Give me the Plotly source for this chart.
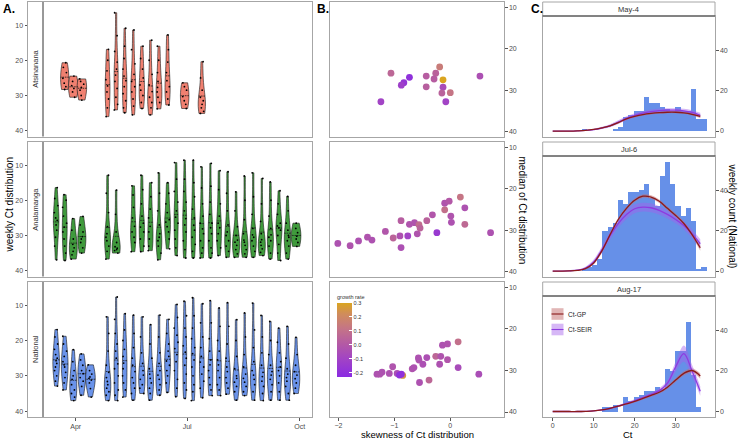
import plotly.graph_objects as go

W, H = 739, 441
def fx(p): return p / W
def fy(p): return 1 - p / H

# ---------------- Panel A data: weekly Ct values ----------------
ATS_WEEKS = ["2020-03-23","2020-03-30","2020-04-06","2020-04-27","2020-05-04","2020-05-11",
             "2020-05-18","2020-05-25","2020-06-01","2020-06-08","2020-06-15","2020-06-29","2020-07-13"]
ATS_CT = [
    [20.7, 22, 23.5, 25.1, 26.5, 27.5, 28.3],
    [24.5, 26, 27.2, 28, 29, 30.5],
    [25.3, 26, 26.8, 27.7, 28.5, 30, 31.3],
    [16.9, 20, 23, 25.5, 27.3, 29, 31, 33.5, 36],
    [6.5, 13, 17.5, 20.5, 22.5, 24.2, 26, 28, 30.5, 32.5, 34.1],
    [10.9, 16, 19.5, 22.5, 24.5, 25.8, 27.5, 29.5, 31.5, 33.5, 34.9],
    [11.4, 17, 21, 24, 26, 27.5, 29, 31, 33, 35.5],
    [16, 19.5, 22.5, 25, 27, 28.5, 30, 32, 33.7],
    [14.3, 20, 24, 27, 28.9, 30.5, 32, 33.5, 35.5],
    [16, 20, 23.5, 26, 27.7, 29, 30.5, 32, 33.8],
    [12.8, 17, 20.5, 23.5, 25.8, 27.5, 29, 31, 32.7],
    [26.4, 27.5, 28.5, 30.3, 31.5, 32.5, 33.7],
    [20.4, 25, 28.5, 30.5, 31.5, 32.5, 33.5, 34.5, 35.1],
]

ANA_WEEKS = ["2020-03-16","2020-03-23","2020-03-30","2020-04-06","2020-04-27","2020-05-04",
             "2020-05-18","2020-05-25","2020-06-01","2020-06-08","2020-06-15","2020-06-22",
             "2020-06-29","2020-07-06","2020-07-13","2020-07-20","2020-07-27","2020-08-03",
             "2020-08-10","2020-08-17","2020-08-24","2020-08-31","2020-09-07","2020-09-14",
             "2020-09-21","2020-09-28"]
ANA_CT = [
    [16.4, 19.5, 21.5, 23.5, 25, 25.7, 27, 28.5, 30.5, 33, 36.9],
    [18.4, 20, 22, 24.5, 26.5, 27.6, 29, 31, 33, 35, 37.1],
    [25.2, 28.5, 31, 32.5, 33.5, 34.5, 35.5, 36.7],
    [24.6, 27, 29, 30.3, 31, 32, 33.5, 35],
    [12.9, 18, 23.5, 27.5, 29.5, 30.5, 31.5, 33, 34.5, 36.7],
    [17.1, 24, 29, 32, 33.2, 33.6, 34, 34.3, 35],
    [15.9, 18.5, 22, 25, 27.4, 29, 30.5, 32, 34.6],
    [12.9, 17, 21, 24.5, 26.5, 27.6, 29, 31, 33, 34.6],
    [15, 19, 22.5, 25, 27.4, 29, 31, 33, 34.3],
    [12.2, 18, 23, 27, 29.5, 30.5, 31.5, 33, 35, 36.9],
    [15, 18, 21, 23.5, 25.5, 26.2, 27.5, 29, 31, 33.8],
    [9.3, 14, 17.5, 20.5, 23, 24.8, 26.5, 28.5, 31, 33.5, 35.7],
    [8.6, 14, 17.5, 20.5, 23, 25.2, 27, 29, 31.5, 34, 36.4],
    [8.6, 15, 19, 22.5, 25, 27.1, 28.5, 30.5, 32.5, 34.5, 36.4],
    [10.5, 16.5, 21, 24.5, 26.5, 28.1, 29.5, 31.5, 33.5, 35, 36.4],
    [9.5, 16, 20.5, 24, 26.5, 27.8, 29.5, 31.5, 33.5, 35, 36.4],
    [11.6, 17, 21, 24.5, 26.5, 27.8, 29.5, 31.5, 33.5, 35.7],
    [11.9, 18, 23, 27, 29, 30, 31.5, 33, 34.5, 36.2],
    [17.6, 23, 27.5, 30, 31.3, 31.9, 32.8, 34, 35.2, 36.2],
    [13.1, 20, 25.5, 29.5, 31.3, 31.9, 32.8, 34, 35.2, 36.2],
    [12.2, 19, 24, 28, 29.8, 30.5, 31.5, 33, 34.5, 36.2],
    [13.8, 21, 26, 29.5, 31.2, 31.9, 32.8, 33.8, 34.8, 35.7],
    [14.8, 20, 24.5, 28, 29.8, 30.5, 31.5, 33, 35, 36.7],
    [17.3, 21, 24, 26.5, 27.3, 27.8, 28.5, 30, 32.5, 35, 37.1],
    [18.9, 23, 26.5, 28.5, 30, 30.5, 31.5, 33, 35, 36.7],
    [26.5, 28, 29.2, 30.2, 31, 32, 33.1],
]

NAT_WEEKS = ["2020-03-16","2020-03-23","2020-03-30","2020-04-06","2020-04-13","2020-04-27",
             "2020-05-04","2020-05-11","2020-05-18","2020-05-25","2020-06-01","2020-06-08",
             "2020-06-15","2020-06-22","2020-06-29","2020-07-06","2020-07-13","2020-07-20",
             "2020-07-27","2020-08-03","2020-08-10","2020-08-17","2020-08-24","2020-08-31",
             "2020-09-07","2020-09-14","2020-09-21","2020-09-28"]
NAT_CT = [
    [16.9, 19, 21, 22.5, 24, 25, 25.7, 26.5, 27.5, 28.5, 30, 31.5, 32.9],
    [18.8, 21, 23, 24.5, 26, 26.9, 27.5, 29, 30.5, 32, 34],
    [22.6, 26, 28.5, 30, 31, 32.5, 34, 35, 36, 37],
    [23.8, 25.5, 27, 28.5, 29.4, 30.5, 31.5, 33, 35.5],
    [26.9, 28.5, 29.5, 30.3, 30.7, 31.2, 32, 33.6, 36],
    [13.3, 18, 23, 27, 29, 30.5, 31.6, 32.5, 33.5, 34.5, 35.5, 37],
    [7.7, 14, 18, 21, 23, 25, 26.6, 28, 30, 32, 34, 35.5, 37],
    [12.4, 17, 20, 22.5, 24.5, 26.4, 28, 30, 32, 34, 36],
    [12.8, 18, 22, 25, 27, 28.8, 30.5, 32, 33.5, 35, 36.9],
    [13.3, 19, 23.5, 26.5, 28.5, 29.8, 31, 32.5, 33.5, 35],
    [15.5, 21, 25, 28, 29.5, 30.7, 32, 33.5, 35, 36.9],
    [12.8, 19, 23.5, 26.5, 28.5, 29.8, 31, 32.5, 34, 35.5],
    [14, 18, 21, 23, 24.5, 25.8, 27, 28.5, 30, 32, 34.7],
    [9.8, 13.5, 16.5, 18.5, 20.5, 22.3, 24, 26, 28.5, 31, 33.5, 35.9],
    [8.9, 13, 16.5, 19, 21.5, 23.3, 25, 27, 29.5, 32, 34, 36.4],
    [7.9, 13, 16.5, 19.5, 22, 23.7, 25.5, 27.5, 30, 32.5, 34.5, 37],
    [9.6, 15, 19, 22, 24.5, 26.1, 27.5, 29.5, 31.5, 33.5, 36.2],
    [8.7, 15, 19.5, 23, 25.5, 26.9, 28.5, 30.5, 32.5, 34, 35.6],
    [10.8, 16, 20, 23, 25.5, 26.9, 28.5, 30.5, 32.5, 34, 35.6],
    [9.3, 16, 21, 25, 27.5, 28.8, 30.5, 32, 33.5, 35.2],
    [14.1, 20, 24.5, 28, 30, 30.7, 31.8, 33, 34.5, 36.9],
    [12.2, 19, 24, 27.5, 29.5, 30.7, 31.8, 33, 34.5, 35.6],
    [9.4, 17, 22, 26, 28.5, 29.8, 31, 32.5, 34.5, 36.9],
    [12.9, 19, 23.5, 27, 29, 30.2, 31.5, 33, 35, 37],
    [14.6, 20, 24, 27, 28.8, 29.8, 31, 32.5, 34.5, 36.9],
    [16.5, 20.5, 23.5, 26, 27.5, 28.5, 30, 32, 34.5, 36.9],
    [16, 21, 25, 28, 29.5, 30.5, 31.5, 33, 35, 36.9],
    [19.1, 24, 27, 28.8, 29.8, 30.8, 32, 33.5, 35],
]

REGIONS = ["Atsinanana", "Analamanga", "National"]
A_TICKS = ["2020-04-01", "2020-07-01", "2020-10-01"]
A_TICKTEXT = ["Apr", "Jul", "Oct"]

# ---------------- Panel B data: skewness, median, growth rate ----------------
ATS_SKEW = [-1.06, -0.73, -0.83, -0.875, -1.24, -0.43, -0.43, -0.26, -0.29, -0.19, -0.13, -0.13, -0.15, 0.0, -0.08, 0.53]
ATS_MED = [25.9, 26.9, 28.2, 28.8, 32.8, 26.6, 29.2, 25.9, 27.3, 24.4, 27.5, 29.3, 30.7, 30.6, 32.8, 26.6]
ATS_GR = [0.06, -0.2, -0.17, -0.12, -0.1, 0.02, 0.03, 0.04, 0.02, 0.15, 0.3, -0.06, 0.04, 0.12, -0.1, -0.04]

ANA_SKEW = [-2.01, -1.79, -1.64, -1.48, -1.40, -1.16, -1.02, -0.90, -0.88, -0.88, -0.76, -0.73, -0.64, -0.59,
            -0.56, -0.54, -0.42, -0.32, -0.24, -0.10, -0.10, -0.02, 0.01, 0.02, 0.18, 0.26, 0.26, 0.72]
ANA_MED = [33.2, 33.75, 32.6, 31.7, 32.4, 30.3, 31.9, 31.4, 27.7, 34.2, 31.4, 28.6, 28.2, 30.9,
           28.7, 29.5, 27.7, 26.3, 30.6, 23.5, 25.1, 23.0, 26.6, 28.1, 22.0, 24.6, 28.6, 30.6]
ANA_GR = [-0.03, -0.02, -0.03, -0.02, -0.03, -0.01, 0.05, -0.03, 0.02, -0.04, -0.1, -0.02, -0.02, -0.02,
          0.09, 0.05, 0.04, -0.01, -0.15, -0.02, 0.1, 0.0, -0.02, -0.03, 0.12, -0.03, 0.07, -0.03]

NAT_SKEW = [-0.85, -1.31, -1.26, -1.22, -1.09, -1.03, -0.95, -0.91, -0.875, -0.68, -0.65, -0.56, -0.57,
            -0.55, -0.49, -0.42, -0.38, -0.26, -0.17, -0.19, -0.14, -0.05, -0.05, 0.14, 0.14, 0.51]
NAT_MED = [31.2, 30.9, 30.9, 30.4, 30.7, 29.1, 30.7, 31.1, 30.9, 29.6, 29.3, 27.5, 27.0,
           32.9, 28.5, 26.9, 32.3, 26.6, 26.6, 28.5, 23.9, 23.6, 27.4, 23.1, 29.3, 30.9]
NAT_GR = [0.25, -0.03, -0.02, -0.03, -0.03, -0.02, -0.05, -0.2, -0.2, -0.02, -0.03, -0.02, -0.03,
          -0.03, -0.04, -0.04, 0.06, 0.06, -0.02, -0.03, -0.03, -0.02, -0.01, 0.1, -0.06, -0.05]

# ---------------- Panel C data: histograms and model fits ----------------
C_TITLES = ["May-4", "Jul-6", "Aug-17"]
BIN_MID = [0.0, 1.27, 2.54, 3.81, 5.08, 6.35, 7.62, 8.89, 10.16, 11.43, 12.7, 13.97, 15.24, 16.51, 17.78,
           19.05, 20.32, 21.59, 22.86, 24.13, 25.4, 26.67, 27.94, 29.21, 30.48, 31.75, 33.02, 34.29, 35.56, 36.83]
MAY4_COUNT = [0, 0, 0, 0, 0, 0, 1, 0, 0, 0, 0, 0, 1, 2, 7, 8, 10, 10, 17, 14, 14, 12, 11, 10, 12, 10, 10, 21, 6, 6]
JUL6_COUNT = [0, 0, 0, 0, 0, 0, 1, 2, 3, 6, 20, 22, 24, 35, 33, 39, 39, 40, 43, 36, 32, 47, 54, 43, 32, 27, 31, 25, 1, 2]
AUG17_COUNT = [0, 0, 0, 0, 0, 0, 0, 0, 0, 0, 2, 2, 3, 0, 7, 5, 7, 8, 10, 10, 12, 11, 21, 20, 30, 30, 44, 18, 2, 0]

CT_GRID = [0, 2, 4, 6, 8, 10, 12, 14, 16, 18, 20, 22, 24, 26, 28, 30, 32, 34, 36]
MAY4_GP = [0, 0, 0, 0.1, 0.3, 0.8, 1.6, 2.6, 4.2, 6.0, 7.2, 8.1, 8.7, 9.1, 9.3, 9.3, 9.0, 8.3, 7.2]
MAY4_GP_LO = [0, 0, 0, 0.05, 0.2, 0.6, 1.3, 2.2, 3.7, 5.5, 6.7, 7.6, 8.2, 8.6, 8.8, 8.8, 8.5, 7.7, 6.5]
MAY4_GP_HI = [0, 0, 0.05, 0.15, 0.4, 1.0, 1.9, 3.0, 4.7, 6.5, 7.7, 8.6, 9.2, 9.6, 9.8, 9.8, 9.5, 8.9, 7.9]
MAY4_SE = [0, 0, 0, 0.1, 0.3, 0.7, 1.5, 2.6, 4.4, 6.3, 7.8, 8.9, 9.6, 10.1, 10.3, 10.3, 10.0, 9.2, 7.8]
MAY4_SE_LO = [0, 0, 0, 0.05, 0.15, 0.4, 1.0, 1.9, 3.5, 5.3, 6.8, 7.9, 8.6, 9.1, 9.3, 9.3, 9.0, 8.1, 6.6]
MAY4_SE_HI = [0, 0, 0.05, 0.2, 0.5, 1.1, 2.1, 3.4, 5.3, 7.3, 8.8, 9.9, 10.6, 11.1, 11.3, 11.3, 11.0, 10.3, 9.0]

JUL6_GP = [0, 0, 0.05, 0.3, 1.2, 4.0, 10.0, 18.0, 25.5, 31.0, 35.0, 37.0, 36.6, 34.5, 31.0, 27.5, 23.5, 18.0, 11.5]
JUL6_GP_LO = [0, 0, 0, 0.2, 0.9, 3.4, 9.2, 17.1, 24.6, 30.1, 34.1, 36.1, 35.7, 33.6, 30.1, 26.6, 22.5, 16.8, 10.0]
JUL6_GP_HI = [0, 0, 0.1, 0.4, 1.5, 4.6, 10.8, 18.9, 26.4, 31.9, 35.9, 37.9, 37.5, 35.4, 31.9, 28.4, 24.5, 19.2, 13.0]
JUL6_SE = [0, 0, 0.1, 0.4, 1.5, 4.5, 10.5, 17.5, 23.5, 28.0, 30.8, 31.6, 31.3, 30.0, 28.0, 25.5, 22.5, 18.5, 13.5]
JUL6_SE_LO = [0, 0, 0, 0.2, 0.9, 3.3, 8.8, 15.5, 21.4, 25.8, 28.6, 29.4, 29.1, 27.9, 26.0, 23.6, 20.6, 16.5, 11.3]
JUL6_SE_HI = [0, 0, 0.2, 0.6, 2.1, 5.7, 12.2, 19.5, 25.6, 30.2, 33.0, 33.8, 33.5, 32.1, 30.0, 27.4, 24.4, 20.5, 15.7]

AUG17_GP = [0, 0, 0, 0, 0.1, 0.3, 0.8, 1.6, 2.6, 3.8, 5.0, 6.5, 8.0, 9.5, 12.0, 15.5, 18.8, 20.2, 17.5]
AUG17_GP_LO = [0, 0, 0, 0, 0.05, 0.2, 0.6, 1.3, 2.2, 3.3, 4.5, 5.9, 7.3, 8.8, 11.2, 14.6, 17.8, 19.1, 16.2]
AUG17_GP_HI = [0, 0, 0, 0.05, 0.15, 0.4, 1.0, 1.9, 3.0, 4.3, 5.5, 7.1, 8.7, 10.2, 12.8, 16.4, 19.8, 21.3, 18.8]
AUG17_SE = [0, 0, 0, 0, 0.1, 0.3, 0.8, 1.6, 2.7, 4.0, 5.3, 6.8, 8.4, 10.3, 14.0, 22.0, 28.5, 20.0, 10.0]
AUG17_SE_LO = [0, 0, 0, 0, 0.05, 0.2, 0.5, 1.2, 2.2, 3.4, 4.6, 6.0, 7.5, 9.2, 12.5, 19.5, 24.5, 17.0, 7.8]
AUG17_SE_HI = [0, 0, 0, 0.05, 0.2, 0.5, 1.1, 2.0, 3.2, 4.6, 6.0, 7.6, 9.3, 11.4, 15.5, 24.5, 32.5, 23.0, 12.5]

# ---------------- styling ----------------
FONT = "Liberation Sans, Arial, sans-serif"
TICKFONT = dict(size=7, color="#4D4D4D", family=FONT)
BORDER = "#A6A6A6"
VIOLIN_FILL = ["#F08070", "#3F9A3C", "#6A93EA"]
HIST_FILL = "#6690E8"
GP_LINE, GP_BAND = "#8B1A1A", "rgba(196,110,110,0.50)"
SE_LINE, SE_BAND = "#8E3BE0", "rgba(165,95,235,0.45)"
CSCALE = [[0, "#8A2BE2"], [0.25, "#A244C4"], [0.45, "#B45AA4"], [0.65, "#C47487"],
          [0.85, "#D08C5C"], [1, "#DAA520"]]

ROW_TOP = [2, 142, 282]
ROW_BOT = [136.5, 276.5, 417]
A_X = (28, 312)
B_X = (330, 504)
C_X = (542.7, 715)
STRIP_H = 14

fig = go.Figure()

def axname(i, kind):
    return kind if i == 1 else f"{kind}{i}"

# Panel A violins
for r, (weeks, cts) in enumerate([(ATS_WEEKS, ATS_CT), (ANA_WEEKS, ANA_CT), (NAT_WEEKS, NAT_CT)]):
    xs, ys = [], []
    for d, vals in zip(weeks, cts):
        xs += [d] * len(vals)
        ys += vals
    i = r + 1
    fig.add_trace(go.Violin(
        x=xs, y=ys, xaxis=axname(i, "x"), yaxis=axname(i, "y"),
        fillcolor=VIOLIN_FILL[r], opacity=1,
        line=dict(color="#1A1A1A", width=0.6),
        points="all", jitter=0.45, pointpos=0,
        marker=dict(size=1.8, color="black"),
        meanline=dict(visible=True, color="#1A1A1A", width=0.8),
        spanmode="hard", bandwidth=3.0, width=6.8e8, scalemode="width",
        showlegend=False, hoverinfo="skip"))

# Panel B scatter
for r, (sk, md, gr) in enumerate([(ATS_SKEW, ATS_MED, ATS_GR), (ANA_SKEW, ANA_MED, ANA_GR),
                                   (NAT_SKEW, NAT_MED, NAT_GR)]):
    i = r + 4
    fig.add_trace(go.Scatter(
        x=sk, y=md, mode="markers", xaxis=axname(i, "x"), yaxis=axname(i, "y"),
        marker=dict(size=6.8, color=gr, coloraxis="coloraxis", line=dict(width=0)),
        showlegend=False, hoverinfo="skip"))

# Panel C histograms + model fits
C_SETS = [
    (MAY4_COUNT, MAY4_GP, MAY4_GP_LO, MAY4_GP_HI, MAY4_SE, MAY4_SE_LO, MAY4_SE_HI),
    (JUL6_COUNT, JUL6_GP, JUL6_GP_LO, JUL6_GP_HI, JUL6_SE, JUL6_SE_LO, JUL6_SE_HI),
    (AUG17_COUNT, AUG17_GP, AUG17_GP_LO, AUG17_GP_HI, AUG17_SE, AUG17_SE_LO, AUG17_SE_HI),
]
for r, (cnt, gp, gplo, gphi, se, selo, sehi) in enumerate(C_SETS):
    i = r + 7
    xa, ya = axname(i, "x"), axname(i, "y")
    fig.add_trace(go.Bar(x=BIN_MID, y=cnt, width=1.27, xaxis=xa, yaxis=ya,
                         marker=dict(color=HIST_FILL, line=dict(width=0)),
                         showlegend=False, hoverinfo="skip"))
    for lo, hi, band in [(gplo, gphi, GP_BAND), (selo, sehi, SE_BAND)]:
        fig.add_trace(go.Scatter(x=CT_GRID, y=lo, mode="lines", line=dict(width=0, shape="spline"),
                                 xaxis=xa, yaxis=ya, showlegend=False, hoverinfo="skip"))
        fig.add_trace(go.Scatter(x=CT_GRID, y=hi, mode="lines", line=dict(width=0, shape="spline"),
                                 fill="tonexty", fillcolor=band,
                                 xaxis=xa, yaxis=ya, showlegend=False, hoverinfo="skip"))
    fig.add_trace(go.Scatter(x=CT_GRID, y=se, mode="lines",
                             line=dict(color=SE_LINE, width=1.3, shape="spline"),
                             xaxis=xa, yaxis=ya, showlegend=False, hoverinfo="skip"))
    fig.add_trace(go.Scatter(x=CT_GRID, y=gp, mode="lines",
                             line=dict(color=GP_LINE, width=1.3, shape="spline"),
                             xaxis=xa, yaxis=ya, showlegend=False, hoverinfo="skip"))

# ---------------- axes ----------------
def base_axis():
    return dict(showline=True, mirror=True, linecolor=BORDER, linewidth=1, showgrid=False,
                zeroline=False, ticks="outside", ticklen=2.5, tickwidth=0.8, tickcolor="#555555",
                tickfont=TICKFONT)

layout_axes = {}
for r in range(3):
    top, bot = ROW_TOP[r], ROW_BOT[r]
    # A
    i = r + 1
    xa = base_axis()
    xa.update(domain=[fx(A_X[0]), fx(A_X[1])], anchor=axname(i, "y"), type="date",
              range=["2020-02-22", "2020-10-11"], tickvals=A_TICKS, ticktext=A_TICKTEXT)
    if r < 2:
        xa.update(showticklabels=False, ticks="")
    ya = base_axis()
    ya.update(domain=[fy(bot), fy(top)], anchor=axname(i, "x"), range=[41.65, 3.45],
              tickvals=[10, 20, 30, 40])
    layout_axes["xaxis" if i == 1 else f"xaxis{i}"] = xa
    layout_axes["yaxis" if i == 1 else f"yaxis{i}"] = ya
    # B
    i = r + 4
    xa = base_axis()
    xa.update(domain=[fx(B_X[0]), fx(B_X[1])], anchor=f"y{i}", range=[-2.15, 0.96],
              tickvals=[-2, -1, 0], ticklabelstandoff=-1)
    if r < 2:
        xa.update(showticklabels=False, ticks="")
    ya = base_axis()
    ya.update(domain=[fy(bot), fy(top)], anchor=f"x{i}", range=[41.2, 8.7], side="right",
              tickvals=[10, 20, 30, 40])
    layout_axes[f"xaxis{i}"] = xa
    layout_axes[f"yaxis{i}"] = ya
    # C
    i = r + 7
    xa = base_axis()
    xa.update(domain=[fx(C_X[0]), fx(C_X[1])], anchor=f"y{i}", range=[-2.44, 39.6],
              tickvals=[0, 10, 20, 30], ticklabelstandoff=-1)
    if r < 2:
        xa.update(showticklabels=False, ticks="")
    ya = base_axis()
    ya.update(domain=[fy(bot), fy(top + STRIP_H)], anchor=f"x{i}", range=[-2.7, 56.9],
              side="right", tickvals=[0, 20, 40])
    layout_axes[f"xaxis{i}"] = xa
    layout_axes[f"yaxis{i}"] = ya

# ---------------- shapes & annotations ----------------
shapes, annotations = [], []

def note(text, x, y, size, color="#333333", angle=0, xanchor="center", yanchor="middle", bold=False):
    annotations.append(dict(text=f"<b>{text}</b>" if bold else text, xref="paper", yref="paper",
                            x=fx(x), y=fy(y), xanchor=xanchor, yanchor=yanchor, textangle=angle,
                            showarrow=False, borderpad=0,
                            font=dict(size=size, color=color, family=FONT)))

for r in range(3):
    top, bot = ROW_TOP[r], ROW_BOT[r]
    # dark vertical line in panel A
    shapes.append(dict(type="line", xref="paper", yref="paper", x0=fx(43), x1=fx(43),
                       y0=fy(top), y1=fy(bot), line=dict(color="#333333", width=1)))
    note(REGIONS[r], 35.5, (top + bot) / 2, 7.5, angle=-90)
    # strips in panel C
    shapes.append(dict(type="rect", xref="paper", yref="paper", x0=fx(C_X[0]), x1=fx(C_X[1]),
                       y0=fy(top + STRIP_H), y1=fy(top), fillcolor="white",
                       line=dict(color=BORDER, width=1)))
    shapes.append(dict(type="line", xref="paper", yref="paper", x0=fx(C_X[0]), x1=fx(C_X[1]),
                       y0=fy(top + STRIP_H), y1=fy(top + STRIP_H),
                       line=dict(color="#333333", width=1)))
    note(C_TITLES[r], (C_X[0] + C_X[1]) / 2, top + STRIP_H / 2, 7.5)

# manual legend for panel C
for j, (name, band, line) in enumerate([("Ct-GP", GP_BAND, GP_LINE), ("Ct-SEIR", SE_BAND, SE_LINE)]):
    yc = 314 + j * 15.5
    shapes.append(dict(type="rect", xref="paper", yref="paper", x0=fx(551.5), x1=fx(563.5),
                       y0=fy(yc + 5.8), y1=fy(yc - 5.8), fillcolor=band, line=dict(width=0)))
    shapes.append(dict(type="line", xref="paper", yref="paper", x0=fx(551.5), x1=fx(563.5),
                       y0=fy(yc), y1=fy(yc), line=dict(color=line, width=1.1)))
    note(name, 567, yc, 6.5, color="#222222", xanchor="left")

# panel letters
for lab, xp in [("A.", 2), ("B.", 316), ("C.", 530)]:
    note(lab, xp, 9, 12, color="black", xanchor="left", bold=True)

# axis titles
note("weekly Ct distribution", 8.5, 205, 10, color="black", angle=-90)
note("median of Ct distribution", 522.5, 210, 10, color="black", angle=90)
note("weekly count (National)", 732.5, 216, 10, color="black", angle=90)
note("skewness of Ct distribution", 417, 441, 9.5, color="black", yanchor="bottom")
note("Ct", 628, 441, 9.5, color="black", yanchor="bottom")

fig.update_layout(
    width=W, height=H, autosize=False,
    margin=dict(l=0, r=0, t=0, b=0),
    paper_bgcolor="white", plot_bgcolor="white",
    font=dict(family=FONT),
    barmode="overlay", bargap=0,
    showlegend=False,
    coloraxis=dict(
        colorscale=CSCALE, cmin=-0.23, cmax=0.3,
        colorbar=dict(
            x=fx(337), xanchor="left", xpad=0, y=fy(292), yanchor="top", ypad=0,
            len=85, lenmode="pixels", thickness=15, thicknessmode="pixels",
            outlinewidth=0, bgcolor="rgba(0,0,0,0)",
            tickvals=[-0.2, -0.1, 0, 0.1, 0.2, 0.3],
            ticktext=["-0.2", "-0.1", "0.0", "0.1", "0.2", "0.3"],
            ticks="inside", ticklen=3, tickcolor="white",
            tickfont=dict(size=5.5, color="#333333", family=FONT),
            title=dict(text="growth rate", side="top", font=dict(size=5.5, color="#333333", family=FONT)),
        ),
    ),
    shapes=shapes, annotations=annotations,
    **layout_axes,
)

fig.write_html("out.html", config={"displayModeBar": False},
               post_script="document.body.style.margin='0';document.body.style.overflow='hidden';")
